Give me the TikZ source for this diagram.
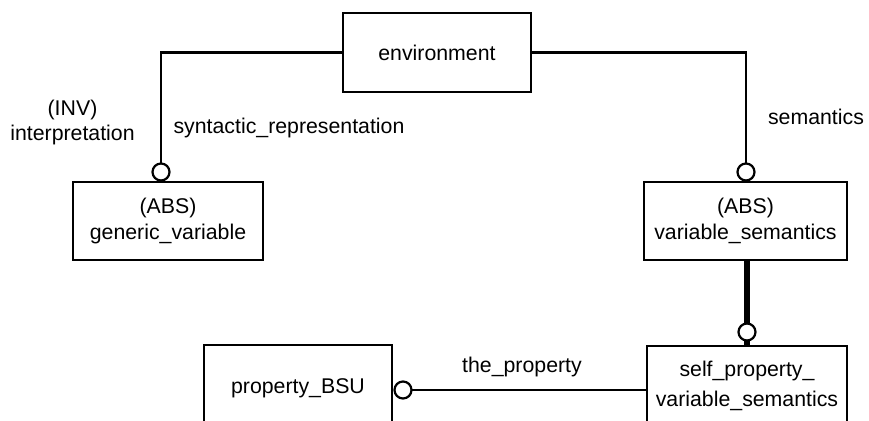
\documentclass[tikz,border=0pt]{standalone}
\usepackage{fontspec}
\setmainfont{Liberation Sans}
\begin{document}
\begin{tikzpicture}[x=0.5pt, y=-0.5pt, font=\fontsize{10.65}{13}\selectfont, line join=miter,
		box/.style={draw, line width=1.35pt, inner sep=0pt, outer sep=0pt, align=center},
		ring/.style={circle, draw, line width=1.1pt, fill=white, inner sep=0pt, outer sep=0pt, minimum size=8.5pt},
		conn/.style={line width=1.25pt},
		heavy/.style={line width=2.6pt},
		lbl/.style={inner sep=0pt, align=center}]
	\useasboundingbox (0,0) rectangle (869,421);
	\clip (0,0) rectangle (869,421);
	% boxes
	\node[box, minimum width=94pt, minimum height=39.5pt] (env) at (437,52.5) {environment};
	\node[box, minimum width=95pt, minimum height=39pt] (genvar) at (168,221) {(ABS)\\generic\_variable};
	\node[box, minimum width=101.5pt, minimum height=39pt] (varsem) at (745.5,221) {(ABS)\\variable\_semantics};
	\node[box, anchor=north, minimum width=94pt, minimum height=43pt] (propbsu) at (298,345) {property\_BSU};
	\node[box, anchor=north, minimum width=100pt, minimum height=40pt] (selfprop) at (747,346) {self\_property\_\\[2pt]variable\_semantics};
	% rings
	\node[ring] (r1) at (161,172) {};
	\node[ring] (r2) at (746,172) {};
	\node[ring] (r3) at (747,332) {};
	\node[ring] (r4) at (403,390) {};
	% connectors
	\draw[conn] (env.west) -| (r1.north);
	\draw[conn] (r1.south) -- (genvar.north -| r1);
	\draw[conn] (env.east) -| (r2.north);
	\draw[conn] (r2.south) -- (varsem.north -| r2);
	\draw[heavy] (varsem.south -| r3) -- (r3.north);
	\draw[heavy] (r3.south) -- (selfprop.north -| r3);
	\draw[conn] (r4.east) -- (selfprop.west |- r4);
	% labels
	\node[lbl, font=\fontsize{10.65}{12.5}\selectfont] (invlbl) at (72.5,122.5) {(INV)\\interpretation};
	\node[lbl] (synlbl) at (289,128) {syntactic\_representation};
	\node[lbl] (semlbl) at (816,117) {semantics};
	\node[lbl] (proplbl) at (522,367) {the\_property};
\end{tikzpicture}
\end{document}
